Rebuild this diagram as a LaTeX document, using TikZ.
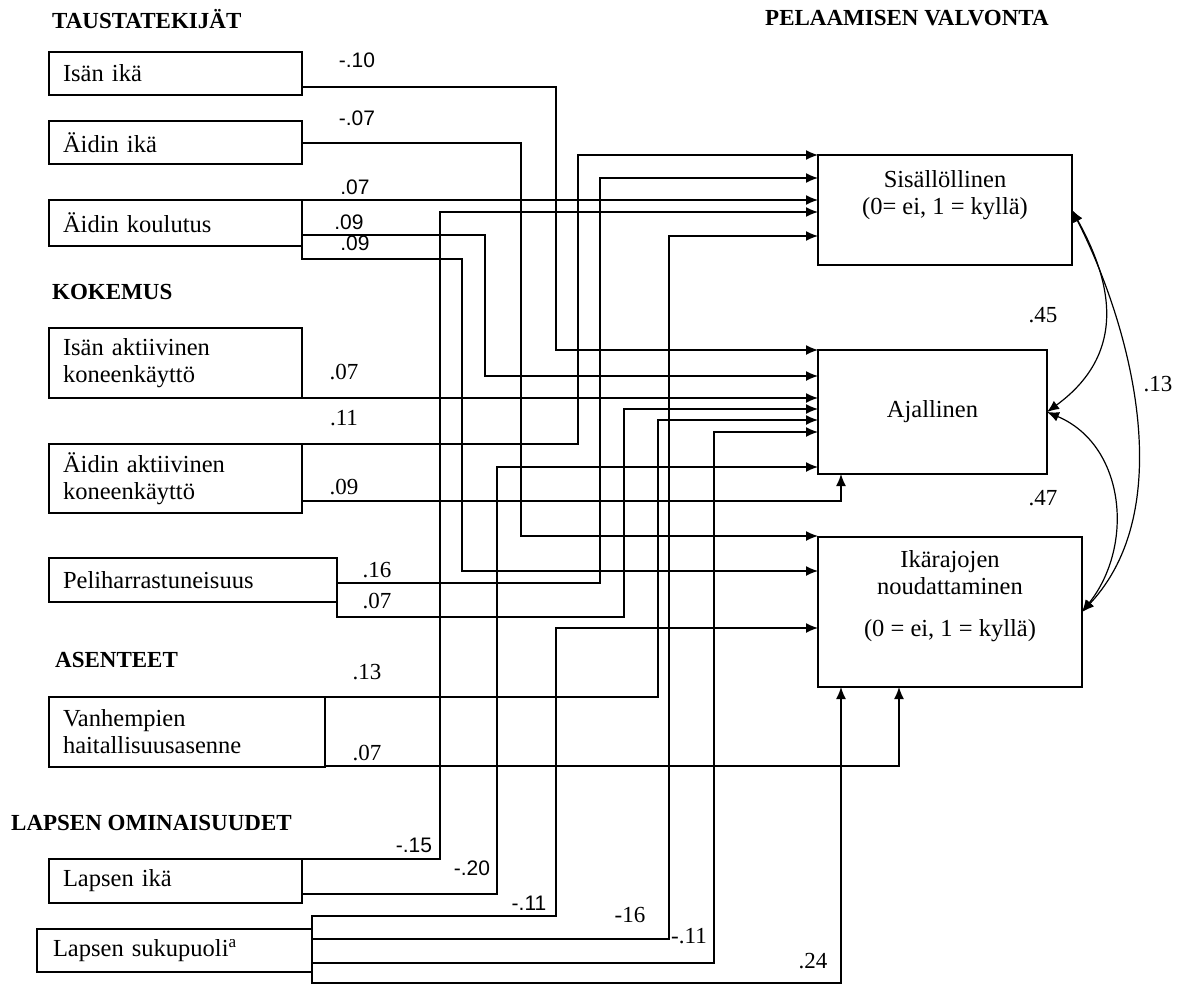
\documentclass[tikz,border=0pt]{standalone}
\usepackage{fontspec}
\setmainfont{Liberation Serif}
\newfontfamily\coefsans{Liberation Sans}
\usetikzlibrary{arrows.meta,positioning}

\begin{document}
\begin{tikzpicture}[x=1pt,y=-1pt,
  font=\fontsize{24.5}{27}\selectfont,
  srcbox/.style={draw,line width=1.4pt,anchor=north west,outer sep=0pt,inner xsep=14pt,inner ysep=0pt,align=left},
  dstbox/.style={draw,line width=1.4pt,anchor=north west,outer sep=0pt,inner sep=0pt,align=center},
  head/.style={anchor=west,inner sep=0pt,font=\fontsize{23}{27}\selectfont\bfseries},
  coef/.style={inner sep=0pt,font=\fontsize{23}{27}\selectfont},
  coefs/.style={inner sep=0pt,font=\fontsize{21}{25}\coefsans},
  link/.style={line width=1.4pt,-{Latex[length=12pt,width=10pt]}},
  corr/.style={line width=1.2pt,{Latex[length=12pt,width=10pt]}-{Latex[length=12pt,width=10pt]}}]
\useasboundingbox (0,0) rectangle (1181,985);

% headings
\node[head] (h-tausta) at (52,19) {TAUSTATEKIJÄT};
\node[head] (h-kokemus) at (52,292) {KOKEMUS};
\node[head] (h-asenne) at (55,660) {ASENTEET};
\node[head] (h-lapsi) at (11,823) {LAPSEN OMINAISUUDET};
\node[head] (h-valvonta) at (765,18) {PELAAMISEN VALVONTA};

% source boxes
\node[srcbox,text width=225pt,minimum height=43pt] (isa-ika) at (49,52) {Isän ikä};
\node[srcbox,text width=225pt,minimum height=43pt] (aiti-ika) at (49,121) {Äidin ikä};
\node[srcbox,text width=225pt,minimum height=46pt] (aiti-koul) at (49,200) {Äidin koulutus};
\node[srcbox,text width=225pt,minimum height=70pt] (isa-kone) at (49,328) {Isän aktiivinen\\koneenkäyttö};
\node[srcbox,text width=225pt,minimum height=69pt] (aiti-kone) at (49,444) {Äidin aktiivinen\\koneenkäyttö};
\node[srcbox,text width=260pt,minimum height=44pt] (peli) at (49,558) {Peliharrastuneisuus};
\node[srcbox,text width=248pt,minimum height=70pt] (asenne) at (49,697) {Vanhempien\\haitallisuusasenne};
\node[srcbox,text width=225pt,minimum height=44pt] (lapsi-ika) at (49,859) {Lapsen ikä};
\node[srcbox,text width=243pt,minimum height=43pt,inner xsep=16pt] (lapsi-sp) at (37,929) {Lapsen sukupuoli\textsuperscript{a}};

% target boxes
\node[dstbox,minimum width=254pt,minimum height=110pt] (sisalto) at (818,155) {};
\node[below=15pt of sisalto.north,inner sep=0pt,align=center] (sisalto-t) {Sisällöllinen\\(0= ei, 1 = kyllä)};
\node[dstbox,minimum width=229pt,minimum height=124pt] (aika) at (818,350) {Ajallinen};
\node[dstbox,minimum width=264pt,minimum height=150pt] (ikaraja) at (818,537) {};
\node[below=13pt of ikaraja.north,inner sep=0pt,align=center] (ikaraja-t) {Ikärajojen\\noudattaminen\\[15pt](0 = ei, 1 = kyllä)};

% coefficients
\node[coefs] (k-1) at (357,60) {-.10};
\node[coefs] (k-2) at (357,118) {-.07};
\node[coefs] (k-3) at (355,187) {.07};
\node[coefs] (k-4) at (349,222) {.09};
\node[coefs] (k-5) at (355,243) {.09};
\node[coef] (k-6) at (344,372) {.07};
\node[coef] (k-7) at (344,418) {.11};
\node[coef] (k-8) at (344,487) {.09};
\node[coef] (k-9) at (377,570) {.16};
\node[coef] (k-10) at (377,601) {.07};
\node[coef] (k-11) at (367,672) {.13};
\node[coef] (k-12) at (367,753) {.07};
\node[coefs] (k-13) at (414,845) {-.15};
\node[coefs] (k-14) at (472,868) {-.20};
\node[coefs] (k-15) at (529,903) {-.11};
\node[coef] (k-16) at (630,915) {-16};
\node[coef] (k-17) at (689,936) {-.11};
\node[coef] (k-18) at (813,961) {.24};
\node[coef] (k-19) at (1043,315) {.45};
\node[coef] (k-20) at (1043,498) {.47};
\node[coef] (k-21) at (1158,384) {.13};

% paths
\draw[link] (isa-ika.east |- 0,87) -| (556,350) -- (aika.west |- 0,350);
\draw[link] (aiti-ika.east |- 0,143) -| (521,536) -- (ikaraja.west |- 0,536);
\draw[link] (aiti-koul.north east) -- (sisalto.west |- 0,200);
\draw[link] (aiti-koul.east |- 0,235) -| (485,376) -- (aika.west |- 0,376);
\draw[link] (aiti-koul.south east) -- ++(0,13) -| (462,571) -- (ikaraja.west |- 0,571);
\draw[link] (isa-kone.south east) -- (aika.west |- 0,398);
\draw[link] (aiti-kone.north east) -| (578,155) -- (sisalto.north west);
\draw[link] (aiti-kone.east |- 0,501) -| (aika.south west -| 841,0);
\draw[link] (peli.east |- 0,583) -| (600,178) -- (sisalto.west |- 0,178);
\draw[link] (peli.south east) -- ++(0,15) -| (624,409) -- (aika.west |- 0,409);
\draw[link] (asenne.north east) -| (658,420) -- (aika.west |- 0,420);
\draw[link] (asenne.east |- 0,766) -| (ikaraja.south west -| 899,0);
\draw[link] (lapsi-ika.north east) -| (440,212) -- (sisalto.west |- 0,212);
\draw[link] (lapsi-ika.east |- 0,894) -| (497,467) -- (aika.west |- 0,467);
\draw[link] (lapsi-sp.north east) -- ++(0,-13) -| (556,628) -- (ikaraja.west |- 0,628);
\draw[link] (lapsi-sp.east |- 0,939) -| (669,236) -- (sisalto.west |- 0,236);
\draw[link] (lapsi-sp.east |- 0,963) -| (714,432) -- (aika.west |- 0,432);
\draw[link] (lapsi-sp.south east) -- ++(0,11) -| (ikaraja.south west -| 841,0);

% correlations
\draw[corr] (sisalto.east) .. controls (1108,275) and (1132,350) .. (aika.east);
\draw[corr] (aika.east) .. controls (1125,445) and (1135,545) .. (ikaraja.east);
\draw[corr] (sisalto.east) .. controls (1133,330) and (1178,510) .. (ikaraja.east);
\end{tikzpicture}
\end{document}
